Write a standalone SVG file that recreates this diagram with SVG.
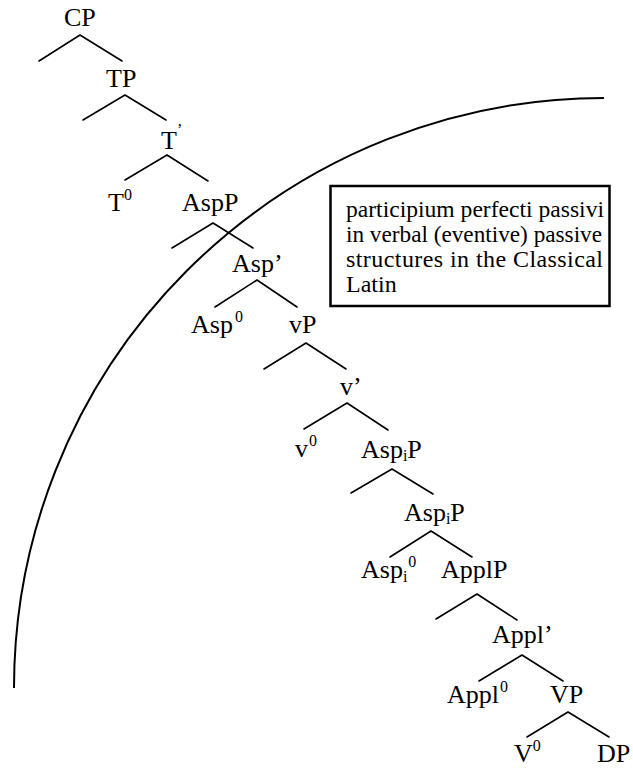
<svg xmlns="http://www.w3.org/2000/svg" width="633" height="768" viewBox="0 0 633 768">
<style>
  text { font-family: 'Liberation Serif', 'DejaVu Serif', 'Times New Roman', serif; fill: #000; }
  .lbl { font-size: 26px; }
  .sup { font-size: 16px; }
  .box { font-size: 24px; }
  .edge { stroke: #000; stroke-width: 1.6; fill: none; stroke-linecap: round; }
</style>
<rect width="633" height="768" fill="#fff"/>
<path id="arc" d="M 14 688 A 590 590 0 0 1 604 98" fill="none" stroke="#000" stroke-width="2"/>
<g id="connectors">
  <path class="edge" d="M80 35 L39 61 M80 35 L122 61"/>
  <path class="edge" d="M125 95 L83 120 M125 95 L166 120"/>
  <path class="edge" d="M167 155 L125 180 M167 155 L208 181"/>
  <path class="edge" d="M213 223 L172 248 M213 223 L253 248"/>
  <path class="edge" d="M257 280 L215 307 M257 280 L297 307"/>
  <path class="edge" d="M306 343 L264 369 M306 343 L346 369"/>
  <path class="edge" d="M347 403 L304 429 M347 403 L388 430"/>
  <path class="edge" d="M392 469 L351 493 M392 469 L433 494"/>
  <path class="edge" d="M431 531 L390 557 M431 531 L472 557"/>
  <path class="edge" d="M477 594 L436 619 M477 594 L517 620"/>
  <path class="edge" d="M522 655 L479 681 M522 655 L563 681"/>
  <path class="edge" d="M568 712 L527 737 M568 712 L609 737"/>
</g>
<g font-family="Liberation Serif, DejaVu Serif, serif">
<g id="CP"><text class="lbl" x="64" y="26">CP</text></g>
<g id="TP"><text class="lbl" x="106" y="87">TP</text></g>
<g id="Tbar"><text class="lbl" x="161" y="149">T<tspan class="sup" dy="-14">’</tspan></text></g>
<g id="T0"><text class="lbl" x="108" y="211">T<tspan class="sup" dy="-11">0</tspan></text></g>
<g id="AspP"><text class="lbl" x="182" y="211">AspP</text></g>
<g id="Aspbar"><text class="lbl" x="232" y="272">Asp’</text></g>
<g id="Asp0"><text class="lbl" x="191" y="333">Asp<tspan class="sup" dx="2" dy="-11">0</tspan></text></g>
<g id="vP"><text class="lbl" x="289" y="333">vP</text></g>
<g id="vbar"><text class="lbl" x="340" y="395">v’</text></g>
<g id="v0"><text class="lbl" x="295" y="457">v<tspan class="sup" dx="1" dy="-11">0</tspan></text></g>
<g id="AspiP1"><text class="lbl" x="361" y="458">Asp<tspan class="sup" dy="3">i</tspan><tspan dy="-3">P</tspan></text></g>
<g id="AspiP2"><text class="lbl" x="404" y="521">Asp<tspan class="sup" dy="3">i</tspan><tspan dy="-3">P</tspan></text></g>
<g id="Aspi0"><text class="lbl" x="361" y="578">Asp<tspan class="sup" dy="4">i</tspan><tspan class="sup" dx="1" dy="-15">0</tspan></text></g>
<g id="ApplP"><text class="lbl" x="441" y="578">ApplP</text></g>
<g id="Applbar"><text class="lbl" x="492" y="643">Appl’</text></g>
<g id="Appl0"><text class="lbl" x="447" y="703">Appl<tspan class="sup" dx="1" dy="-11">0</tspan></text></g>
<g id="VP"><text class="lbl" x="550" y="703">VP</text></g>
<g id="V0"><text class="lbl" x="514" y="762">V<tspan class="sup" dy="-11">0</tspan></text></g>
<g id="DP"><text class="lbl" x="597" y="762">DP</text></g>
<g id="note">
  <rect x="330.5" y="186" width="279" height="120" fill="#fff" stroke="#000" stroke-width="2.5"/>
  <text class="box" x="346" y="217" textLength="258" lengthAdjust="spacingAndGlyphs">participium perfecti passivi</text>
  <text class="box" x="346" y="242" textLength="256" lengthAdjust="spacingAndGlyphs">in verbal (eventive) passive</text>
  <text class="box" x="346" y="267" textLength="257" lengthAdjust="spacing">structures in the Classical</text>
  <text class="box" x="346" y="292">Latin</text>
</g>
</g>
</svg>
